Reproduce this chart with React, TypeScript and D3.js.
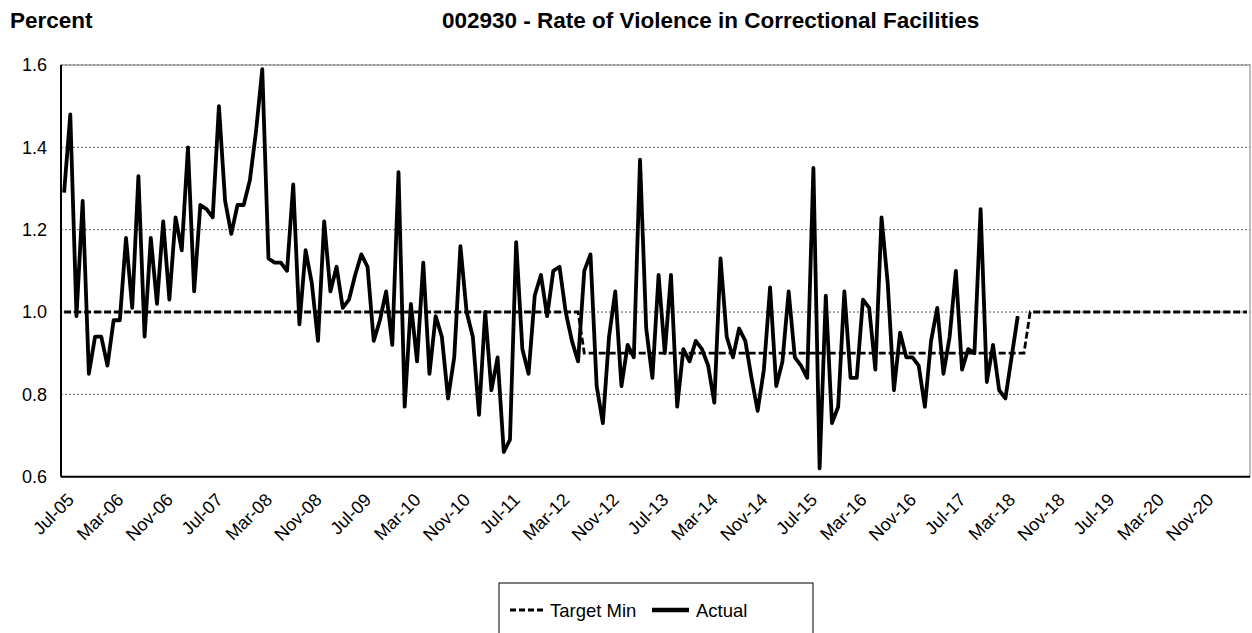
import React from "react";
import * as d3 from "d3";

// ---- data ----
const startMonth = new Date(2005, 6, 1); // Jul-05
const monthCount = 192; // Jul-05 .. Jun-21
const categories: string[] = d3
  .timeMonth.range(startMonth, d3.timeMonth.offset(startMonth, monthCount))
  .map((d) => d3.timeFormat("%b-%y")(d));

const tickLabels = [
  "Jul-05", "Mar-06", "Nov-06", "Jul-07", "Mar-08", "Nov-08", "Jul-09", "Mar-10",
  "Nov-10", "Jul-11", "Mar-12", "Nov-12", "Jul-13", "Mar-14", "Nov-14", "Jul-15",
  "Mar-16", "Nov-16", "Jul-17", "Mar-18", "Nov-18", "Jul-19", "Mar-20", "Nov-20",
];

const yTicks = [0.6, 0.8, 1.0, 1.2, 1.4, 1.6];

// Actual, monthly from Jul-05
const actual = [
  1.29, 1.48, 0.99, 1.27, 0.85, 0.94, 0.94, 0.87, 0.98, 0.98,
  1.18, 1.01, 1.33, 0.94, 1.18, 1.02, 1.22, 1.03, 1.23, 1.15,
  1.40, 1.05, 1.26, 1.25, 1.23, 1.50, 1.27, 1.19, 1.26, 1.26,
  1.32, 1.44, 1.59, 1.13, 1.12, 1.12, 1.10, 1.31, 0.97, 1.15,
  1.07, 0.93, 1.22, 1.05, 1.11, 1.01, 1.03, 1.09, 1.14, 1.11,
  0.93, 0.98, 1.05, 0.92, 1.34, 0.77, 1.02, 0.88, 1.12, 0.85,
  0.99, 0.94, 0.79, 0.89, 1.16, 1.00, 0.94, 0.75, 1.00, 0.81,
  0.89, 0.66, 0.69, 1.17, 0.91, 0.85, 1.04, 1.09, 0.99, 1.10,
  1.11, 1.00, 0.93, 0.88, 1.10, 1.14, 0.82, 0.73, 0.94, 1.05,
  0.82, 0.92, 0.89, 1.37, 0.96, 0.84, 1.09, 0.90, 1.09, 0.77,
  0.91, 0.88, 0.93, 0.91, 0.87, 0.78, 1.13, 0.94, 0.89, 0.96,
  0.93, 0.84, 0.76, 0.86, 1.06, 0.82, 0.88, 1.05, 0.89, 0.87,
  0.84, 1.35, 0.62, 1.04, 0.73, 0.77, 1.05, 0.84, 0.84, 1.03,
  1.01, 0.86, 1.23, 1.07, 0.81, 0.95, 0.89, 0.89, 0.87, 0.77,
  0.93, 1.01, 0.85, 0.94, 1.10, 0.86, 0.91, 0.90, 1.25, 0.83,
  0.92, 0.81, 0.79, 0.89, 0.99,
];

// Target Min, as periods
const targetStarts = ["Jul-05", "Jul-12", "Jul-18"];
const targetEnds = ["Jun-12", "Jun-18", "Jun-21"];
const targetLevels = [1.0, 0.9, 1.0];

const targetMin: number[] = categories.map((c, i) => {
  for (let k = 0; k < targetStarts.length; k++) {
    const s = categories.indexOf(targetStarts[k]);
    const e = categories.indexOf(targetEnds[k]);
    if (i >= s && i <= e) return targetLevels[k];
  }
  return NaN;
});

// ---- layout ----
const W = 1252;
const H = 633;
const plotLeft = 61;
const plotRight = 1250;
const plotTop = 65;
const plotBottom = 476.7;
const FONT = "'Liberation Sans', Arial, sans-serif";

export default function App() {
  const x = d3
    .scaleBand<number>()
    .domain(d3.range(categories.length))
    .range([plotLeft, plotRight])
    .padding(0);
  const cx = (i: number) => (x(i) as number) + x.bandwidth() / 2;
  const y = d3.scaleLinear().domain([0.6, 1.6]).range([plotBottom, plotTop]);

  const line = d3
    .line<number>()
    .defined((v) => !isNaN(v))
    .x((_, i) => cx(i))
    .y((v) => y(v));

  return (
    <svg
      width={W}
      height={H}
      style={{ position: "absolute", left: 0, top: 0, background: "#fff" }}
      fontFamily={FONT}
    >
      <rect x={0} y={0} width={W} height={H} fill="#fff" />
      {/* titles */}
      <text x={10} y={28} fontSize={22.5} fontWeight="bold" fill="#000">
        Percent
      </text>
      <text x={442} y={28} fontSize={22.5} fontWeight="bold" fill="#000">
        002930 - Rate of Violence in Correctional Facilities
      </text>

      {/* gridlines */}
      {yTicks
        .filter((t) => t > 0.6)
        .map((t) => (
          <line
            key={t}
            x1={plotLeft}
            x2={plotRight}
            y1={y(t)}
            y2={y(t)}
            stroke="#555"
            strokeWidth={1}
            strokeDasharray="2,2"
          />
        ))}
      {/* plot border */}
      <rect
        x={plotLeft}
        y={plotTop}
        width={plotRight - plotLeft}
        height={plotBottom - plotTop}
        fill="none"
        stroke="#7f7f7f"
        strokeWidth={1}
      />

      {/* series */}
      <path
        d={line(targetMin) || ""}
        fill="none"
        stroke="#000"
        strokeWidth={2.8}
        strokeDasharray="7,3"
      />
      <path
        d={line(actual) || ""}
        fill="none"
        stroke="#000"
        strokeWidth={3.8}
        strokeLinejoin="round"
      />

      {/* axes */}
      <line x1={plotLeft} x2={plotLeft} y1={plotTop} y2={plotBottom} stroke="#000" strokeWidth={2} />
      <line x1={plotLeft} x2={plotRight} y1={plotBottom} y2={plotBottom} stroke="#000" strokeWidth={2} />

      {/* y labels */}
      {yTicks.map((t) => (
        <text
          key={t}
          x={47}
          y={y(t)}
          dy="0.35em"
          textAnchor="end"
          fontSize={18}
          fill="#000"
        >
          {t.toFixed(1)}
        </text>
      ))}

      {/* x labels */}
      {tickLabels.map((lab) => {
        const i = categories.indexOf(lab);
        const px = cx(i) + 11;
        const py = 501;
        return (
          <text
            key={lab}
            transform={`translate(${px},${py}) rotate(-45)`}
            textAnchor="end"
            fontSize={18}
            fill="#000"
          >
            {lab}
          </text>
        );
      })}

      {/* legend */}
      <rect x={499} y={583} width={314} height={70} fill="#fff" stroke="#000" strokeWidth={1} />
      <line x1={510} x2={544} y1={610} y2={610} stroke="#000" strokeWidth={2.8} strokeDasharray="6,3" />
      <text x={550} y={616.5} fontSize={18.5} fill="#000">
        Target Min
      </text>
      <line x1={652} x2={689} y1={610} y2={610} stroke="#000" strokeWidth={4.5} />
      <text x={696} y={616.5} fontSize={18.5} fill="#000">
        Actual
      </text>
    </svg>
  );
}
